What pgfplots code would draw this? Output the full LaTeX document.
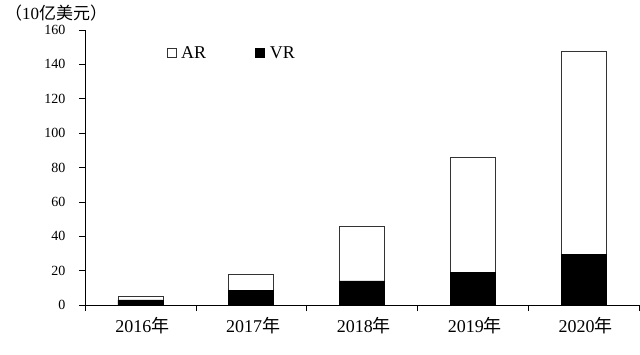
\documentclass[border=0pt]{standalone}
\usepackage{fontspec}
\setmainfont{Liberation Serif}
\newfontfamily\cjk{Noto Sans CJK SC}
\usepackage{pgfplots}
\pgfplotsset{compat=1.18}
\begin{document}
\begin{tikzpicture}[x=1pt,y=1pt]
\path[use as bounding box] (0,0) rectangle (640,354);
\node[anchor=west,inner sep=0pt,font=\fontsize{17}{17}\selectfont] at (5,341) {{\cjk （}10{\cjk 亿美元）}};
\begin{axis}[
  at={(85pt,49pt)}, anchor=south west,
  scale only axis, width=554pt, height=275pt,
  xmin=-0.5, xmax=4.5, ymin=0, ymax=160,
  axis x line*=bottom, axis y line*=left,
  ybar stacked, bar width=45pt,
  xtick={0,1,2,3,4},
  xticklabels={2016{\cjk 年},2017{\cjk 年},2018{\cjk 年},2019{\cjk 年},2020{\cjk 年}},
  major x tick style={draw=none},
  minor xtick={-0.5,0.5,1.5,2.5,3.5,4.5},
  minor tick length=6pt,
  xtick align=outside,
  ytick={0,20,...,160},
  ytick align=outside,
  major tick length=6pt,
  tick style={black, line width=0.6pt},
  axis line style={black, line width=0.8pt},
  /pgf/number format/assume math mode=true,
  yticklabel style={font=\fontsize{14}{14}\selectfont, xshift=-10pt},
  xticklabel style={font=\fontsize{18}{18}\selectfont, yshift=-3pt, xshift=2pt},
  legend columns=2,
  reverse legend,
  legend style={draw=none, fill=none, at={(0.147,0.916)}, anchor=west, inner sep=0pt,
    font=\fontsize{18}{18}\selectfont,
    /tikz/every odd column/.append style={column sep=3pt},
    /tikz/every even column/.append style={column sep=47pt}},
  legend image code/.code={\draw[#1, line width=0.6pt] (0pt,-4.5pt) rectangle (9pt,4.5pt);},
]
\addplot[fill=black, draw=black, line width=0.6pt] coordinates {(0,3) (1,8.7) (2,14) (3,19) (4,29.5)};
\addplot[fill=white, draw=black!80, line width=0.6pt] coordinates {(0,2.2) (1,9.3) (2,32) (3,67) (4,118)};
\legend{VR,AR}
\end{axis}
\end{tikzpicture}
\end{document}
